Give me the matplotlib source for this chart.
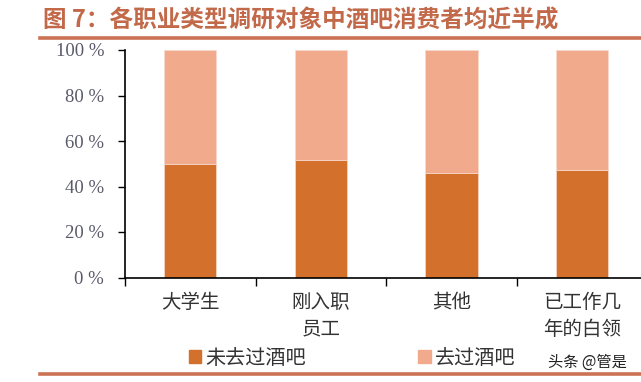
import matplotlib
matplotlib.use('Agg')
import matplotlib.pyplot as plt
from matplotlib.lines import Line2D
from matplotlib.patches import Patch

# 数据
categories = ['大学生', '刚入职\n员工', '其他', '已工作几\n年的白领']
never_been = [50.0, 51.5, 45.8, 47.3]   # 未去过酒吧 (%)
been = [100 - v for v in never_been]     # 去过酒吧 (%)
y_ticks = [0, 20, 40, 60, 80, 100]

plt.rcParams['font.family'] = ['Noto Sans CJK SC', 'DejaVu Sans']

W, H = 641, 382
fig = plt.figure(figsize=(W / 100, H / 100), dpi=100)

dark = '#D3702B'
light = '#F1AA8C'
brown = '#C2694A'

# 坐标轴（右侧超出画布，与原图裁切一致）
ax = fig.add_axes([125 / W, (H - 277.5) / H, 522.4 / W, 227.5 / H])
x = range(len(categories))
ax.bar(x, never_been, width=0.4, color=dark, edgecolor='#F7D9CC', linewidth=0.5)
ax.bar(x, been, width=0.4, bottom=never_been, color=light, edgecolor='#F7D9CC', linewidth=0.5)

ax.set_xlim(-0.5, len(categories) - 0.5)
ax.set_ylim(0, 100)
ax.set_yticks(y_ticks)
ax.set_yticklabels([f'{t} %' for t in y_ticks], family=['Liberation Serif'],
                   fontsize=13.5, color='#5A5A6A')
ax.set_xticks([i - 0.5 for i in range(len(categories) + 1)])
ax.set_xticklabels([])
ax.tick_params(axis='y', length=5, width=1, pad=10, direction='out')
ax.tick_params(axis='x', length=6, width=1, direction='out')
for i, c in enumerate(categories):
    ax.text(i, -6.5, c, ha='center', va='top', fontsize=14, color='#333333',
            linespacing=1.35, transform=ax.transData)
for s in ['top', 'right']:
    ax.spines[s].set_visible(False)
for s in ['left', 'bottom']:
    ax.spines[s].set_linewidth(1.2)
    ax.spines[s].set_color('black')

# 标题与分隔线
fig.text(43 / W, 1 - 21 / H, '图 7：各职业类型调研对象中酒吧消费者均近半成',
         fontsize=17, fontweight='bold', color=brown, ha='left', va='center')
fig.add_artist(Line2D([40 / W, 1], [1 - 37.5 / H] * 2, color='#CB7254', lw=2.6))
fig.add_artist(Line2D([40 / W, 1], [1 - 373.5 / H] * 2, color='#CB7254', lw=2.6))

# 图例
handles = [Patch(color=dark), Patch(color=light)]
fig.legend(handles, ['未去过酒吧', '去过酒吧'], loc='center', ncol=2,
           bbox_to_anchor=(352 / W, 1 - 358 / H), frameon=False, fontsize=14.5,
           handlelength=0.6, handleheight=0.6, handletextpad=0.2,
           columnspacing=5.6, labelcolor='#333333', borderpad=0)

# 水印
fig.text(587 / W, 1 - 362 / H, '头条 @管是', fontsize=11, color='#222222',
         ha='center', va='center')

fig.savefig('out.png', dpi=100)
